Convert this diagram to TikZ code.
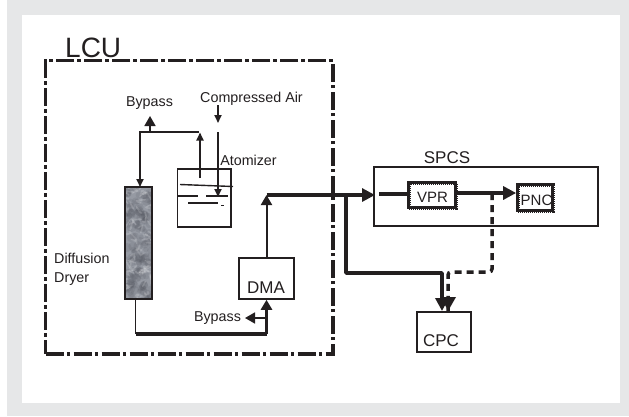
\documentclass[tikz,border=0pt]{standalone}
\usepackage{fontspec}
\setmainfont{Liberation Sans}
\usetikzlibrary{arrows.meta,calc}
\definecolor{ink}{HTML}{231F20}
\definecolor{framegray}{HTML}{E6E7E8}
\tikzset{
  x=1pt,y=-1pt,
  box/.style={draw=ink,line width=1.5pt,inner sep=0pt,fill=none},
  dotbox/.style={draw=ink,line width=2.7pt,inner sep=0pt,preaction={draw=ink,line width=4pt,dash pattern=on 1pt off 1pt}},
  lcubox/.style={draw=ink,line width=3.4pt,inner sep=0pt,dash pattern=on 18pt off 3.4pt on 3.2pt off 3.4pt},
  lbl/.style={text=ink,inner sep=0pt,font=\fontsize{14.3}{16}\selectfont},
  big/.style={text=ink,inner sep=0pt,font=\fontsize{17}{19}\selectfont},
  thin line/.style={draw=ink,line width=1.7pt},
  heavy/.style={draw=ink,line width=3.1pt},
  dashline/.style={draw=ink,line width=3.5pt,dash pattern=on 7pt off 5pt,rounded corners=3pt},
  tipS/.style={-{Triangle[length=8pt,width=7pt]}},
  tipM/.style={-{Triangle[length=10pt,width=11pt]}},
  tipL/.style={-{Triangle[length=13pt,width=13pt]}},
  atomline/.style={draw=ink,line width=1.4pt},
}
\begin{document}
\begin{tikzpicture}
\useasboundingbox (0,0) rectangle (629,416);
\fill[framegray] (7,0) rectangle (629,416);
\fill[white] (22,15) rectangle (620,403);

% dryer texture
\pgfmathsetseed{4711}
\begin{scope}
\clip (125,187) rectangle (152,299);
\fill[color={rgb,255:red,150;green,154;blue,163}] (125,187) rectangle (152,299);
\foreach \i in {1,...,150}{
  \pgfmathsetmacro{\xa}{125+27*rnd}
  \pgfmathsetmacro{\ya}{187+112*rnd}
  \pgfmathsetmacro{\ra}{2+3*rnd}
  \fill[color={rgb,255:red,70;green,73;blue,82},opacity=.13] (\xa,\ya) circle[radius=\ra];
}
\foreach \i in {1,...,70}{
  \pgfmathsetmacro{\xa}{125+27*rnd}
  \pgfmathsetmacro{\ya}{187+112*rnd}
  \pgfmathsetmacro{\xb}{\xa+12*rnd-6}
  \pgfmathsetmacro{\yb}{\ya+12*rnd-6}
  \pgfmathsetmacro{\xc}{\xa+12*rnd-6}
  \pgfmathsetmacro{\yc}{\ya+12*rnd-6}
  \draw[white,opacity=.16,line width=1.6pt,line cap=round] (\xa,\ya) .. controls (\xb,\yb) .. (\xc,\yc);
}
\end{scope}

% boxes
\node[lcubox,minimum width=287.5pt,minimum height=293.5pt] (lcu) at (189.25,207.25) {};
\node[box,line width=1.7pt,minimum width=27pt,minimum height=112pt] (dryer) at (138.5,243) {};
\node[box,minimum width=53.5pt,minimum height=58pt] (atom) at (204.25,198) {};
\node[box,minimum width=55pt,minimum height=41pt] (dma) at (266.5,278.5) {};
\node[box,minimum width=224pt,minimum height=59pt] (spcs) at (486,196.5) {};
\node[dotbox,minimum width=47pt,minimum height=25pt] (vpr) at (432,195) {};
\node[dotbox,minimum width=35pt,minimum height=26pt] (pnc) at (535,197.5) {};
\node[box,minimum width=54pt,minimum height=40pt] (cpc) at (444,332) {};

% labels
\node[text=ink,inner sep=0pt,font=\fontsize{28}{30}\selectfont,anchor=base west] (lcut) at (65,57) {LCU};
\node[lbl] (bypa) at (149.5,103) {Bypass};
\node[lbl] (air) at (251.5,99) {Compressed Air};
\node[lbl] (atomt) at (248.5,160.5) {Atomizer};
\node[lbl,anchor=west] (diff) at (54,258.5) {Diffusion};
\node[lbl,anchor=west] (dry) at (54,279) {Dryer};
\node[big,anchor=base] (dmat) at (266,293) {DMA};
\node[lbl] (bypb) at (217.5,318.5) {Bypass};
\node[big] (spcst) at (447,158) {SPCS};
\node[text=ink,inner sep=0pt,font=\fontsize{15}{17}\selectfont] (vprt) at (432.5,197) {VPR};
\node[text=ink,inner sep=0pt,font=\fontsize{15}{17}\selectfont] (pnct) at (536.5,200) {PNC};
\node[big,anchor=base] (cpct) at (441,346) {CPC};

% named junctions
\coordinate (airA) at (218,105);
\coordinate (airB) at (218,123);
\coordinate (airC) at (218,132);
\coordinate (airD) at (218,197);
\coordinate (atOut) at (200,178);
\coordinate (atTop) at (200,132.5);
\coordinate (tl) at (140,132);
\coordinate (tr) at (199,132);
\coordinate (bpj) at (150,132);
\coordinate (bpt) at (150,116);
\coordinate (dryIn) at (140,187);
\coordinate (dryOut) at (135.5,299);
\coordinate (dryC) at (135.5,334);
\coordinate (dmaC) at (266.5,334);
\coordinate (bpk) at (266,318);
\coordinate (bpe) at (245,318);
\coordinate (mid) at (266.5,195);
\coordinate (inS) at (375,195);
\coordinate (sIn) at (379,194);
\coordinate (down) at (346,195);
\coordinate (dnB) at (346,273);
\coordinate (dnC) at (442,273);
\coordinate (dnE) at (442,311);
\coordinate (dsA) at (492,193);
\coordinate (dsB) at (492,272);
\coordinate (dsC) at (448,272);
\coordinate (dsE) at (448,311);

% atomizer inner lines
\coordinate (a1) at (180,184.5); \coordinate (a2) at (233,186.5);
\coordinate (a3) at (177,196); \coordinate (a4) at (198,196);
\coordinate (a5) at (206,196); \coordinate (a6) at (228,196);
\coordinate (a7) at (188,203); \coordinate (a8) at (218,203);
\coordinate (a9) at (221,205.7); \coordinate (a10) at (224,205.7);
\draw[atomline] (a1)--(a2);
\draw[atomline] (a3)--(a4);
\draw[atomline] (a5)--(a6);
\draw[atomline] (a7)--(a8);
\draw[atomline] (a9)--(a10);

% connectors
\draw[thin line,tipS] (airA)--(airB);
\draw[thin line,tipS] (airC)--(airD);
\draw[thin line,tipS] (atOut)--(atTop);
\draw[thin line,tipS,line join=miter] (tr)--(tl)--(dryIn);
\draw[thin line,tipM] (bpj)--(bpt);
\draw[thin line] (dryOut)--(dryC);
\draw[heavy] (dryC)--(dmaC);
\draw[draw=ink,line width=3.6pt,tipM] (dmaC)--(dma.south);
\draw[thin line,tipM] (bpk)--(bpe);
\draw[thin line,line width=2pt,tipM] (dma.north)--(mid);
\draw[heavy,tipL] (mid)--(inS);
\draw[heavy] (sIn)--(vpr.west |- sIn);
\draw[heavy,tipL] (vpr.east |- dsA)--(pnc.west |- dsA);
\draw[heavy,line width=3.5pt,line join=round,tipL] (down)--(dnB)--(dnC)--(dnE);
\draw[dashline] (dsA)--(dsB)--(dsC)--(dsC |- dnE);
\fill[ink] (448,311) -- (441,297) -- (456,297) -- cycle;
\end{tikzpicture}
\end{document}
